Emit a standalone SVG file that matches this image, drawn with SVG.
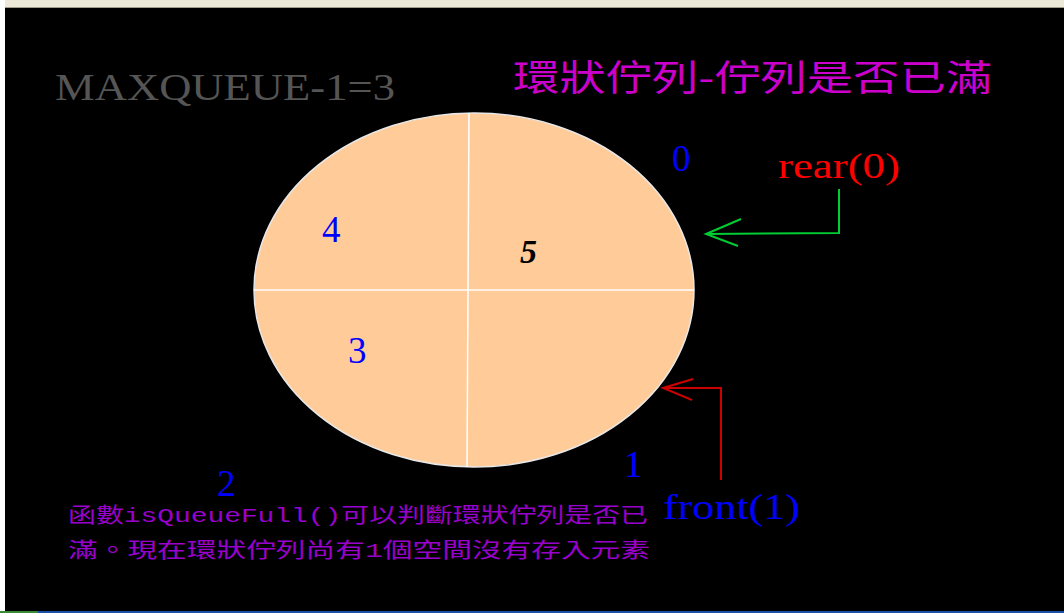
<svg xmlns="http://www.w3.org/2000/svg" width="1064" height="613" viewBox="0 0 1064 613">
<style>
.serif{font-family:"Liberation Serif","Times New Roman",serif}
.num{font-family:"Liberation Serif",serif;font-size:37px;fill:#0000ff}
.cjk{font-family:"Noto Sans CJK TC","Noto Sans CJK SC",sans-serif}
.body{font-family:"Liberation Mono","Noto Sans CJK TC",monospace;font-size:21px;fill:#9900cc}
.conn{fill:none;stroke-width:2;stroke-linejoin:miter}
</style>
<rect x="0" y="0" width="1064" height="613" fill="#000"/>
<rect x="0" y="0" width="1064" height="7" fill="#ece9d8"/>
<rect x="0" y="7" width="1064" height="1" fill="#a09c90"/>
<rect x="0" y="0" width="5" height="613" fill="#fff"/>
<rect x="0" y="611" width="1064" height="2" fill="#1c4fa8"/>
<rect x="0" y="611" width="38" height="2" fill="#3a8a3a"/>

<g id="maxqueue"><text class="serif" x="55" y="100" font-size="38" fill="#555" textLength="340" lengthAdjust="spacingAndGlyphs">MAXQUEUE-1=3</text></g>
<g id="title"><text class="cjk" x="513" y="91" font-size="36" fill="#cc00cc" textLength="479" lengthAdjust="spacingAndGlyphs">環狀佇列-佇列是否已滿</text></g>

<g id="queue">
<ellipse cx="474" cy="290" rx="220" ry="177" fill="#ffcc99" stroke="#e8e8e8" stroke-width="1.5"/>
<line x1="254" y1="290" x2="694" y2="290" stroke="#fff" stroke-width="1.5"/>
<line x1="469" y1="113" x2="467" y2="467" stroke="#fff" stroke-width="1.5"/>
<text class="num" x="322" y="242">4</text>
<text class="num" x="348" y="363">3</text>
<text class="serif" x="520" y="263" font-size="34" font-weight="bold" font-style="italic" fill="#000">5</text>
</g>

<g id="idx0"><text class="num" x="672" y="171">0</text></g>
<g id="idx1"><text class="num" x="624" y="477">1</text></g>
<g id="idx2"><text class="num" x="217" y="496">2</text></g>

<g id="rear"><text class="serif" x="778" y="178" font-size="36" fill="#ff0000" textLength="122" lengthAdjust="spacingAndGlyphs">rear(0)</text></g>
<g id="front"><text class="serif" x="663" y="519" font-size="35" fill="#0000ff" textLength="137" lengthAdjust="spacingAndGlyphs">front(1)</text></g>

<g id="connectors">
<polyline class="conn" stroke="#00cc33" points="839,189 839,233 706,234"/>
<polyline class="conn" stroke="#00cc33" points="741,219 706,234 738,246"/>
<polyline class="conn" stroke="#cc0000" points="721,480 721,388 663,388"/>
<polyline class="conn" stroke="#cc0000" points="693,379 663,388 692,400"/>
</g>

<g id="desc">
<text class="body" x="68" y="522" textLength="580" lengthAdjust="spacingAndGlyphs">函數isQueueFull()可以判斷環狀佇列是否已</text>
<text class="body" x="68" y="557" textLength="582" lengthAdjust="spacingAndGlyphs">滿。現在環狀佇列尚有1個空間沒有存入元素</text>
</g>
</svg>
